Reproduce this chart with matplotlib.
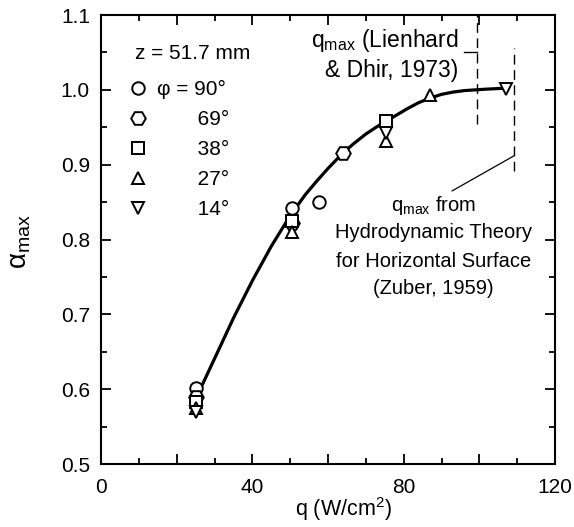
import numpy as np
import matplotlib
matplotlib.use("Agg")
import matplotlib.pyplot as plt

plt.rcParams["font.family"] = ["Liberation Sans", "DejaVu Sans"]
plt.rcParams["mathtext.fontset"] = "custom"
plt.rcParams["mathtext.rm"] = "Liberation Sans"
plt.rcParams["mathtext.it"] = "Liberation Sans"

# measured points, one series per inclination angle
q_90 = [25, 50.5, 57.5]
a_90 = [0.601, 0.842, 0.850]
q_69 = [25, 50.5, 64]
a_69 = [0.590, 0.822, 0.916]
q_38 = [25, 50.5, 75.3]
a_38 = [0.583, 0.825, 0.958]
q_27 = [25, 50.5, 75.3, 87]
a_27 = [0.575, 0.810, 0.931, 0.993]
q_14 = [25, 75.3, 107]
a_14 = [0.569, 0.943, 1.001]

# hand drawn curve through the data
q_curve = [26.5, 29, 31.5, 35, 40, 45, 50, 54, 57, 60, 64, 67, 70, 73, 75, 78, 81, 84, 87, 90, 93, 96, 99, 102, 106]
a_curve = [0.603, 0.630, 0.657, 0.695, 0.745, 0.791, 0.832, 0.860, 0.878, 0.895, 0.916, 0.929, 0.941, 0.951, 0.957, 0.966, 0.975, 0.983, 0.989, 0.994, 0.997, 0.999, 1.000, 1.001, 1.002]

q_lienhard = 99.5
q_zuber = 109.2

pad = "\u2007\u2007\u2007 "
fig = plt.figure(figsize=(5.74, 5.27), dpi=100)
ax = fig.add_axes([0.176, 0.1195, 0.791, 0.852])

ax.plot(q_curve, a_curve, color="black", lw=2.3, zorder=2)

mk = dict(color="black", ls="none", mfc="white", mec="black", mew=1.4, ms=9, zorder=3)
ax.plot(q_90, a_90, marker="o", label="φ = 90°", **mk)
ax.plot(q_69, a_69, marker="H", label=pad + "69°", **{**mk, "ms": 10.5})
ax.plot(q_38, a_38, marker="s", label=pad + "38°", **{**mk, "ms": 8})
ax.plot(q_27, a_27, marker="^", label=pad + "27°", **mk)
ax.plot(q_14, a_14, marker="v", label=pad + "14°", **mk)

# critical heat flux markers
ax.plot([q_lienhard, q_lienhard], [0.955, 1.1], color="black", lw=1, dashes=(7, 4))
ax.plot([96.0, q_lienhard], [1.051, 1.051], color="black", lw=1)
ax.plot([q_zuber, q_zuber], [0.892, 1.056], color="black", lw=1, dashes=(7, 4))
ax.plot([92.8, q_zuber], [0.865, 0.912], color="black", lw=0.9)

ax.text(94.4, 1.0655, "q$_{\\rm max}$ (Lienhard", ha="right", va="center", fontsize=16.5)
ax.text(94.4, 1.0254, "& Dhir, 1973)", ha="right", va="center", fontsize=16.5)
ax.text(87.8, 0.846, "q$_{\\rm max}$ from", ha="center", va="center", fontsize=14.5)
ax.text(87.8, 0.8088, "Hydrodynamic Theory", ha="center", va="center", fontsize=14.5)
ax.text(87.8, 0.770, "for Horizontal Surface", ha="center", va="center", fontsize=14.5)
ax.text(87.8, 0.734, "(Zuber, 1959)", ha="center", va="center", fontsize=14.5)

ax.text(0.075, 0.915, "z = 51.7 mm", transform=ax.transAxes, ha="left", va="center", fontsize=15)
leg = ax.legend(loc="upper left", bbox_to_anchor=(0.045, 0.878), frameon=False,
                fontsize=15, handlelength=0.6, handletextpad=0.6, labelspacing=0.53, borderpad=0)

ax.set_xlim(0, 120)
ax.set_ylim(0.5, 1.1)
ax.set_xticks([0, 20, 40, 60, 80, 100, 120], labels=["0", "", "40", "", "80", "", "120"])
ax.set_xticks(np.arange(10, 120, 20), minor=True)
ax.set_yticks([0.5, 0.6, 0.7, 0.8, 0.9, 1.0, 1.1], labels=["0.5", "0.6", "0.7", "0.8", "0.9", "1.0", "1.1"])
ax.set_yticks(np.arange(0.55, 1.1, 0.1), minor=True)
ax.tick_params(which="both", direction="in", top=True, right=True, labelsize=15, width=1.3)
ax.tick_params(which="major", length=7)
ax.tick_params(which="minor", length=4.5)
ax.tick_params(axis="x", pad=10)
ax.tick_params(axis="y", pad=8)
for s in ax.spines.values():
    s.set_linewidth(1.5)

ax.set_xlabel("q (W/cm$^{2}$)", fontsize=15.5)
ax.xaxis.set_label_coords(0.533, -0.07)
ax.set_ylabel("α$_{\\rm max}$", fontsize=20)
ax.yaxis.set_label_coords(-0.15, 0.495)

fig.savefig("out.png", dpi=100)
